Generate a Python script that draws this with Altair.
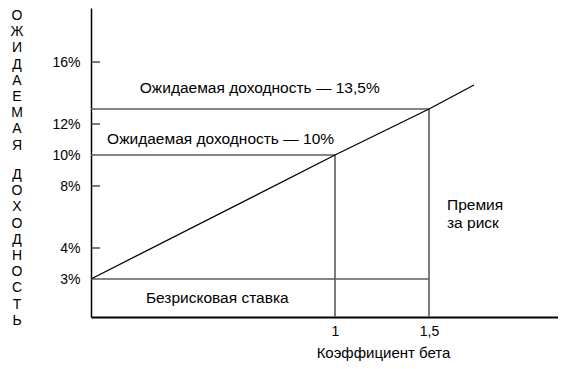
import altair as alt
import pandas as pd

# Security market line points (beta, expected return %)
sml_beta = [0, 1, 1.5, 1.75]
sml_return = [3, 10, 13.5, 15.25]

# Horizontal guide lines: return level and beta extent
h_return = [13.5, 10, 3]
h_beta_start = [0, 0, 0]
h_beta_end = [1.5, 1, 1.5]

# Vertical guide lines: beta and top return
v_beta = [1, 1.5]
v_return_top = [10, 13.5]

y_tick_values = [3, 4, 8, 10, 12, 16]
y_inner_ticks = [4, 8, 12, 16]
x_tick_values = [1, 1.5]

ann_text = ["Ожидаемая доходность — 13,5%", "Ожидаемая доходность — 10%",
            "Безрисковая ставка", "Премия", "за риск"]
ann_beta = [0.2, 0.066, 0.225, 1.6, 1.6]
ann_return = [15.0, 11.03, 2.39, 6.75, 5.6]

# vertical (letter-stacked) y-axis title, one word per block
y_title_words = ["ОЖИДАЕМАЯ", "ДОХОДНОСТЬ"]

# schematic (piecewise) scales as in the original drawing
Y_MIN = 1.77
x_scale = alt.Scale(domain=[0, 1, 1.5, 1.75, 2.22], range=[0, 244, 338, 383, 467],
                    nice=False, zero=False)
y_scale = alt.Scale(domain=[Y_MIN, 3, 4, 12, 13.5, 15.25, 16, 19.5],
                    range=[309, 271, 240, 116, 101, 77, 54, 0], nice=False, zero=False)

FONT = "Liberation Sans"
GUIDE = "#5c5c5c"

df_line = pd.DataFrame({"b": sml_beta, "r": sml_return})
df_h = pd.DataFrame({"b": h_beta_start, "b2": h_beta_end, "r": h_return})
df_v = pd.DataFrame({"b": v_beta, "r": [Y_MIN] * len(v_beta), "r2": v_return_top})
df_t = pd.DataFrame({"r": y_inner_ticks})
df_a = pd.DataFrame({"b": ann_beta, "r": ann_return, "label": ann_text})
df_w1 = pd.DataFrame({"w": ["\n".join(y_title_words[0])]})
df_w2 = pd.DataFrame({"w": ["\n".join(y_title_words[1])]})

x_axis = alt.Axis(values=x_tick_values, labelExpr="replace(toString(datum.value), '.', ',')",
                  ticks=False, grid=False, labelPadding=7, labelFontSize=14, labelFont=FONT,
                  labelColor="#000", domainColor="#000", domainWidth=2,
                  title="Коэффициент бета", titleFont=FONT, titleFontSize=15,
                  titleFontWeight="normal", titleColor="#000", titleX=292, titleY=40,
                  titleAlign="center", titleBaseline="alphabetic")
y_axis = alt.Axis(values=y_tick_values, labelExpr="datum.value + '%'", ticks=False, grid=False,
                  labelPadding=11, labelFontSize=14, labelFont=FONT, labelColor="#000",
                  domainColor="#000", domainWidth=1.5, title=None)

X = alt.X("b:Q", scale=x_scale, axis=x_axis)
Y = alt.Y("r:Q", scale=y_scale, axis=y_axis)

line = alt.Chart(df_line).mark_line(color="#000", strokeWidth=1.3).encode(x=X, y=Y)
hrules = alt.Chart(df_h).mark_rule(color=GUIDE, strokeWidth=1.6).encode(x=X, x2="b2:Q", y=Y)
vrules = alt.Chart(df_v).mark_rule(color=GUIDE, strokeWidth=1.6).encode(x=X, y=Y, y2="r2:Q")
ticks = alt.Chart(df_t).mark_rule(color="#333", strokeWidth=1.3).encode(
    y=Y, x=alt.value(0), x2=alt.value(9))
texts = alt.Chart(df_a).mark_text(align="left", baseline="middle", font=FONT,
                                  fontSize=15.5, color="#000").encode(x=X, y=Y, text="label:N")

title_style = dict(align="center", baseline="top", font=FONT, fontSize=14, color="#000",
                   lineBreak="\n", lineHeight=16.2)
ytitle1 = alt.Chart(df_w1).mark_text(**title_style).encode(
    x=alt.value(-74), y=alt.value(1), text="w:N")
ytitle2 = alt.Chart(df_w2).mark_text(**title_style).encode(
    x=alt.value(-74), y=alt.value(160), text="w:N")

chart = alt.layer(hrules, vrules, ticks, line, texts, ytitle1, ytitle2).properties(
    width=467, height=309,
    background="white",
    autosize=alt.AutoSizeParams(type="none"),
    padding={"left": 83, "top": 0, "right": 0, "bottom": 44},
).configure_view(stroke=None)

chart.save("out.html", embed_options={"renderer": "svg", "actions": False})
